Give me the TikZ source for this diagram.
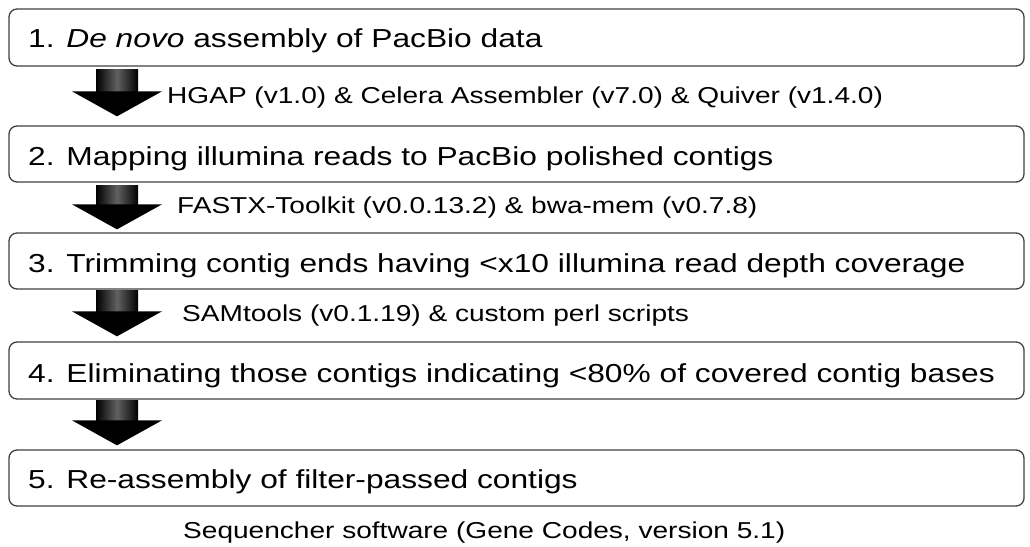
\documentclass[tikz,border=0pt]{standalone}
\usepackage{fontspec}
\setmainfont{Liberation Sans}[FakeStretch=1.22]
\usetikzlibrary{calc}
\begin{document}
\begin{tikzpicture}[x=1pt,y=-1pt,
  stepbox/.style={draw=black!75, line width=1.3pt, rounded corners=8pt, minimum width=1015pt, inner sep=0pt},
  steptext/.style={anchor=base west, inner sep=0pt, font=\fontsize{26}{30}\selectfont},
  toollabel/.style={anchor=base west, inner sep=0pt, font=\fontsize{23}{27}\selectfont}]
\useasboundingbox (0,0) rectangle (1030,546);
% boxes
\node[stepbox, minimum height=57pt] (b1) at (516.5,37.5) {};
\node[stepbox, minimum height=56pt] (b2) at (516.5,154) {};
\node[stepbox, minimum height=56pt] (b3) at (516.5,261) {};
\node[stepbox, minimum height=57pt] (b4) at (516.5,370.5) {};
\node[stepbox, minimum height=56pt] (b5) at (516.5,478) {};
% box texts
\node[steptext] (t1) at (28,47) {1. \textit{De novo} assembly of PacBio data};
\node[steptext] (t2) at (28,165) {2. Mapping illumina reads to PacBio polished contigs};
\node[steptext] (t3) at (28,272) {3. Trimming contig ends having <x10 illumina read depth coverage};
\node[steptext] (t4) at (28,382) {4. Eliminating those contigs indicating <80\% of covered contig bases};
\node[steptext] (t5) at (28,488) {5. Re-assembly of filter-passed contigs};
% arrows
\newcommand\fatarrow[4]{%
  \path let \p1=(#1.south), \p2=(#2.north) in
    [left color=black, right color=black, middle color=black!62]
    (96pt,\y1-#3) rectangle (138pt,\y2+#4+24pt);
  \fill let \p1=(#1.south), \p2=(#2.north) in
    (72pt,\y2+#4+25pt) -- (162pt,\y2+#4+25pt) -- (117pt,\y2+#4) -- cycle;
}
\fatarrow{b1}{b2}{3pt}{9pt}
\fatarrow{b2}{b3}{3pt}{3pt}
\fatarrow{b3}{b4}{1pt}{5pt}
\fatarrow{b4}{b5}{1pt}{4pt}
% tool labels
\node[toollabel] (l1) at (167,103) {HGAP (v1.0) \& Celera Assembler (v7.0) \& Quiver (v1.4.0)};
\node[toollabel] (l2) at (177,213) {FASTX-Toolkit (v0.0.13.2) \& bwa-mem (v0.7.8)};
\node[toollabel] (l3) at (182,321) {SAMtools (v0.1.19) \& custom perl scripts};
\node[toollabel] (l4) at (183,538) {Sequencher software (Gene Codes, version 5.1)};
\end{tikzpicture}
\end{document}
